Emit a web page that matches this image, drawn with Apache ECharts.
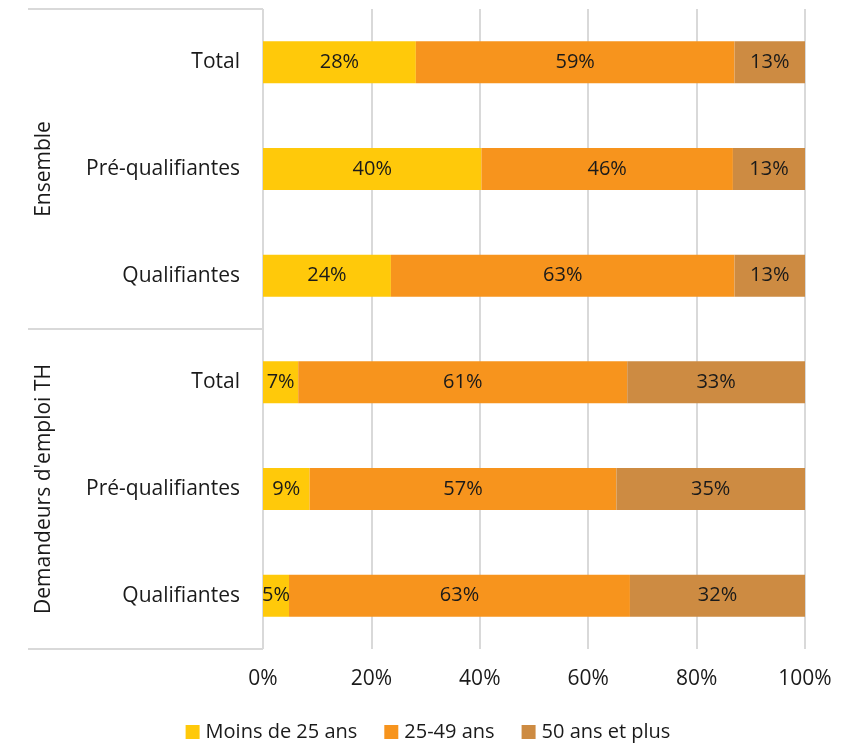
<!DOCTYPE html>
<html>
<head>
<meta charset="utf-8">
<script src="https://cdn.jsdelivr.net/npm/echarts@6/dist/echarts.min.js"></script>
<style>
  html, body { margin: 0; padding: 0; background: #fff; }
  #chart { width: 856px; height: 743px; }
</style>
</head>
<body>
<div id="chart"></div>
<script>
// catégories (groupe|libellé), du haut vers le bas
const categories = [
    'Ensemble|Total', 'Ensemble|Pré-qualifiantes', 'Ensemble|Qualifiantes',
    'TH|Total', 'TH|Pré-qualifiantes', 'TH|Qualifiantes'
]
const groups = ['Ensemble', "Demandeurs d'emploi TH"]

const moins25 = [28.2, 40.3, 23.6, 6.5, 8.6, 4.8]
const age25_49 = [58.8, 46.4, 63.4, 60.7, 56.6, 62.9]
const plus50 = [13.0, 13.3, 13.0, 32.8, 34.8, 32.3]

const seriesNames = ['Moins de 25 ans', '25-49 ans', '50 ans et plus']
const colors = ['#FFC90A', '#F7941D', '#CD8B42']
const xTicks = [0, 20, 40, 60, 80, 100]

const FONT = '"Open Sans", sans-serif'
const TEXT = '#1a1a1a'

const chart = echarts.init(document.getElementById('chart'))

const makeSeries = (name, data, color) => ({
    name: name,
    type: 'bar',
    stack: 'total',
    barWidth: 42,
    data: data,
    itemStyle: {color: color},
    label: {
        show: true,
        position: 'inside',
        color: TEXT,
        fontFamily: FONT,
        fontSize: 20,
        formatter: p => Math.round(p.value) + '%'
    }
})

chart.setOption({
    animation: false,
    textStyle: {fontFamily: FONT},
    grid: {left: 263, right: 51, top: 9, bottom: 94},
    legend: {
        top: 717,
        left: 'center',
        itemWidth: 14,
        itemHeight: 14,
        itemGap: 27,
        icon: 'rect',
        textStyle: {color: TEXT, fontSize: 20, fontFamily: FONT, padding: [0, 0, 0, 1]},
        data: seriesNames
    },
    xAxis: {
        type: 'value',
        min: xTicks[0],
        max: xTicks[xTicks.length - 1],
        interval: 20,
        axisLine: {show: false},
        axisTick: {show: false},
        splitLine: {lineStyle: {color: '#D9D9D9', width: 2}},
        axisLabel: {
            color: TEXT,
            fontSize: 21,
            fontFamily: FONT,
            margin: 20,
            formatter: v => v + '%'
        }
    },
    yAxis: [
        {
            type: 'category',
            inverse: true,
            data: categories,
            axisLine: {show: false},
            axisTick: {show: false},
            axisLabel: {
                interval: 0,
                color: TEXT,
                fontSize: 21,
                fontFamily: FONT,
                margin: 23,
                formatter: v => v.split('|')[1]
            }
        },
        {
            type: 'category',
            inverse: true,
            position: 'left',
            offset: 235,
            data: groups,
            axisLine: {show: false},
            axisTick: {
                show: true,
                interval: 0,
                inside: true,
                length: 235,
                lineStyle: {color: '#D9D9D9', width: 2}
            },
            axisLabel: {
                interval: 0,
                inside: true,
                rotate: 90,
                margin: 6,
                color: TEXT,
                fontSize: 21,
                fontFamily: FONT
            }
        }
    ],
    series: [
        makeSeries(seriesNames[0], moins25, colors[0]),
        makeSeries(seriesNames[1], age25_49, colors[1]),
        makeSeries(seriesNames[2], plus50, colors[2])
    ]
})
</script>
</body>
</html>
